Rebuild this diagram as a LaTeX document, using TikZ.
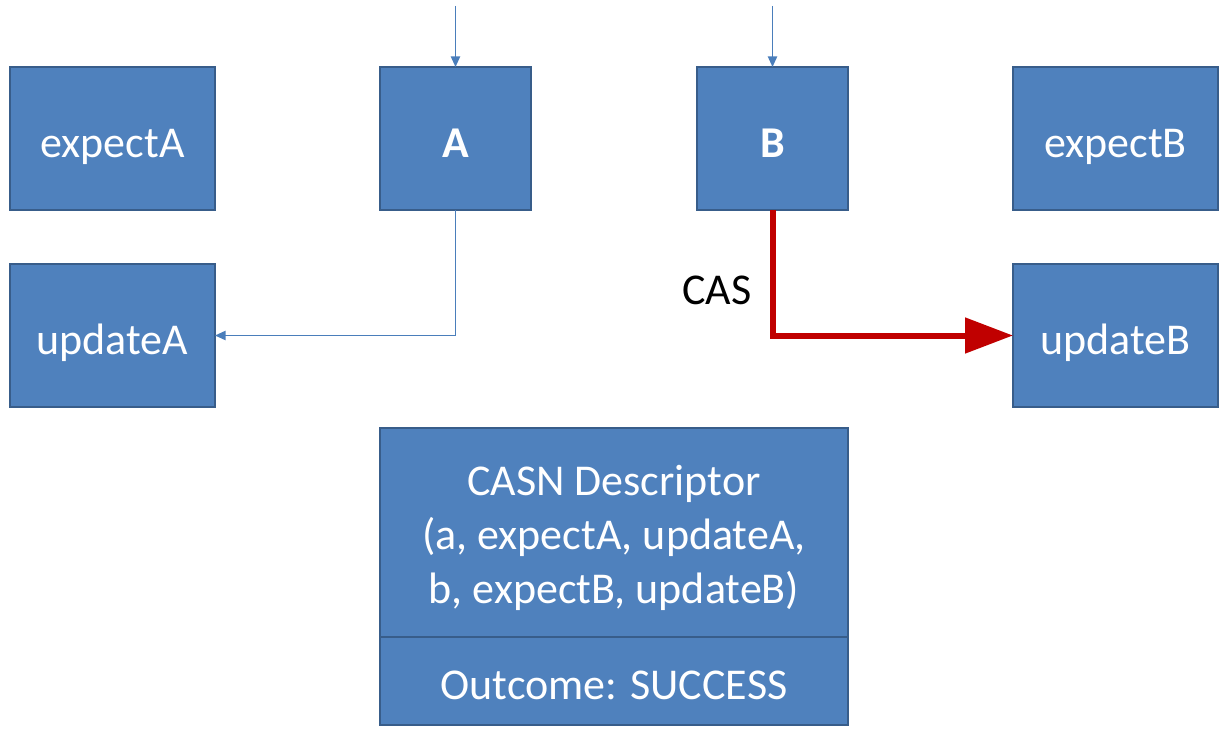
\documentclass[tikz,border=0pt]{standalone}
\usepackage{fontspec}
\setmainfont{Carlito}
\usetikzlibrary{arrows.meta}
\definecolor{boxfill}{HTML}{4F81BD}
\definecolor{boxline}{HTML}{385D8A}
\definecolor{thinline}{HTML}{4A7EBB}
\definecolor{casred}{HTML}{C00000}
\begin{document}
\begin{tikzpicture}[x=0.75pt,y=-0.75pt,
  box/.style={draw=boxline,fill=boxfill,line width=1.6pt,text=white,
    font=\fontsize{33}{40.5}\selectfont,align=center,inner sep=0pt,outer sep=0pt},
  one/.style={text height=28pt,text depth=0.2pt},
  wide/.style={box,one,minimum width=153.75pt,minimum height=107.25pt},
  narrow/.style={box,one,minimum width=113.25pt,minimum height=107.25pt,font=\fontsize{33}{40.5}\selectfont\bfseries},
  lbl/.style={text=white,font=\fontsize{33}{40.5}\selectfont,align=center,inner sep=0pt},
  thin/.style={draw=thinline,line width=1.1pt,-{Triangle[length=8pt,width=7pt]}},
  red/.style={draw=casred,line width=4.5pt,-{Triangle[length=36pt,width=26pt]}}
]
\useasboundingbox (0,0) rectangle (1227,738);
\node[wide] (expectA) at (112.5,138.5) {expectA};
\node[narrow] (A) at (455.5,138.5) {A};
\node[narrow] (B) at (772.5,138.5) {B};
\node[wide] (expectB) at (1115.5,138.5) {expectB};
\node[wide] (updateA) at (112.5,335.5) {updateA};
\node[wide] (updateB) at (1115.5,335.5) {updateB};
\node[box,minimum width=351pt,minimum height=156.75pt] (desc) at (614,532.5) {};
\node[lbl] (desctext) at (614,538)
  {CASN Descriptor\\(a, expectA, updateA,\\b, expectB, updateB)};
\node[box,minimum width=351pt,minimum height=66pt,text height=28pt,text depth=0.2pt] (outcome) at (614,681)
  {Outcome: SUCCESS};
\coordinate (inA) at (455.5,6);
\coordinate (inB) at (772.5,6);
\draw[thin] (inA) -- (A.north);
\draw[thin] (inB) -- (B.north);
\draw[thin] (A.south) |- (updateA.east);
\draw[red] (B.south) |- (updateB.west);
\node[font=\fontsize{33}{40.5}\selectfont,inner sep=0pt] (cas) at (717,290) {CAS};
\end{tikzpicture}
\end{document}
